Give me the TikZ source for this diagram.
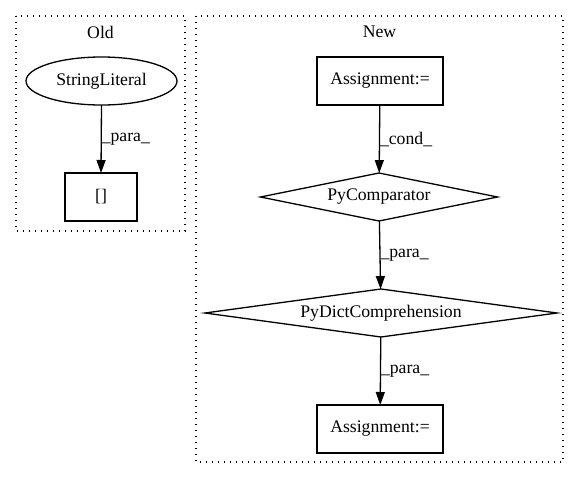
\documentclass[tikz,border=0pt]{standalone}
\usepackage{fontspec}
\setmainfont{Liberation Serif}
\usetikzlibrary{shapes.geometric,arrows.meta}
\begin{document}
\begin{tikzpicture}[x=1pt,y=-1pt,
  font=\fontsize{17.7}{20}\selectfont,
  every node/.style={inner sep=0pt, outer sep=0pt},
  box/.style={draw, line width=1.3pt, minimum width=126pt, minimum height=48pt},
  oval/.style={draw, ellipse, line width=1.3pt, minimum width=151pt, minimum height=48pt},
  dia/.style={draw, diamond, line width=1.3pt, minimum height=48pt},
  cluster/.style={draw, line width=1.1pt, dash pattern=on 1.4pt off 4.6pt},
  edge/.style={draw, line width=1.3pt, -{Triangle[length=13pt,width=9pt]}},
  elabel/.style={anchor=west, xshift=0.5pt}
]
\useasboundingbox[fill=white] (0,0) rectangle (579,480);
% clusters
\draw[cluster] (16,16) rectangle (185,231);
\draw[cluster] (196,16) rectangle (563,462);
\node (oldlbl) at (100.5,32) {Old};
\node (newlbl) at (379.5,32) {New};
% Old
\node[oval] (sl) at (101.5,81) {StringLiteral};
\node[box, minimum width=72pt] (br) at (101,197) {[]};
% New
\node[box] (a1) at (380,81) {Assignment:=};
\node[dia, aspect=4.9, minimum width=237pt] (pc) at (379,197) {PyComparator};
\node[dia, aspect=7.3, minimum width=352pt] (pd) at (381,313) {PyDictComprehension};
\node[box] (a2) at (380,429) {Assignment:=};
% edges
\draw[edge] (sl.south) -- (br.north) node[midway, elabel] {\_para\_};
\draw[edge] (a1) -- (pc) node[midway, elabel] {\_cond\_};
\draw[edge] (pc) -- (pd) node[midway, elabel] {\_para\_};
\draw[edge] (pd) -- (a2) node[midway, elabel] {\_para\_};
\end{tikzpicture}
\end{document}
